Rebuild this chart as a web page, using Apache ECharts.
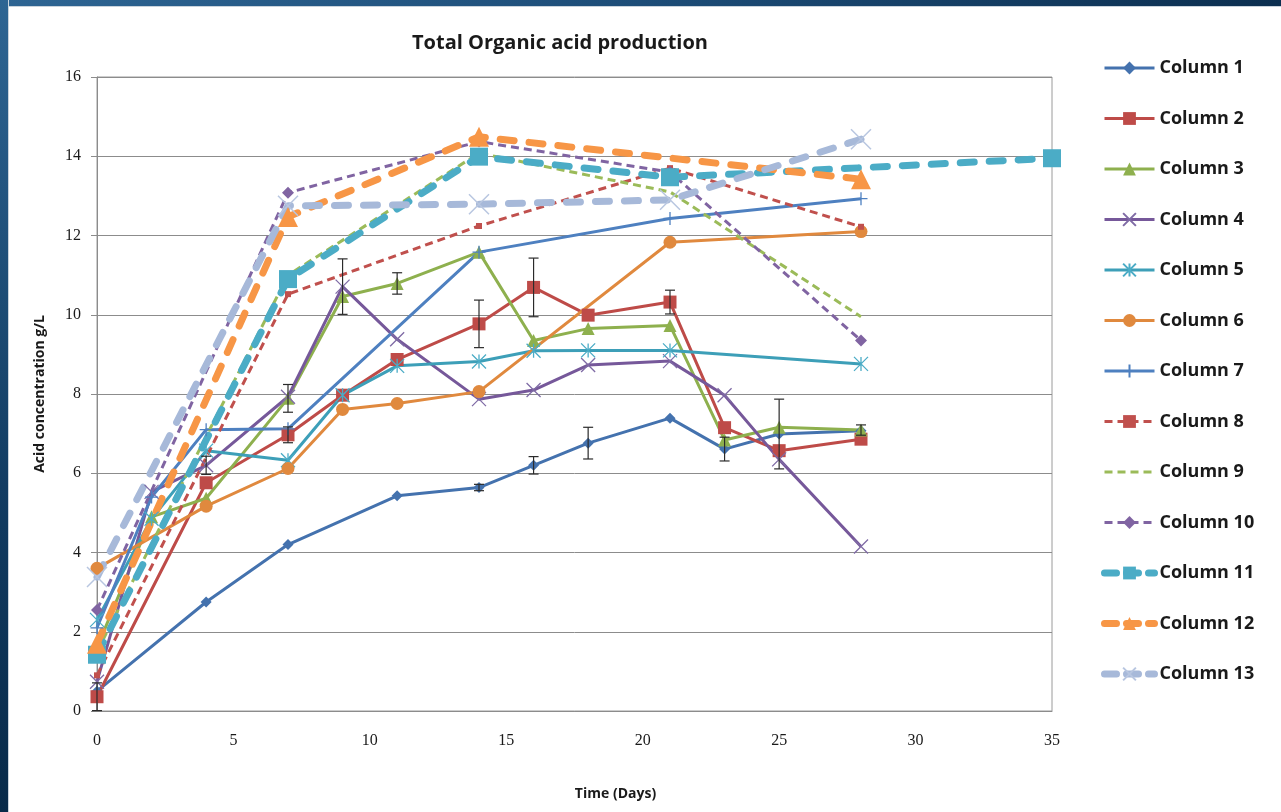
<!DOCTYPE html>
<html>
<head>
<meta charset="utf-8">
<script src="https://cdn.jsdelivr.net/npm/echarts@6/dist/echarts.min.js"></script>
<style>
  html, body { margin: 0; padding: 0; background: #ffffff; }
  #wrap { position: relative; width: 1281px; height: 812px; overflow: hidden; }
  #chart { position: absolute; left: 0; top: 0; width: 1281px; height: 812px; }
  .band-top { position: absolute; left: 0; top: 0; width: 1281px; height: 6px;
    background: linear-gradient(to right, #2e6593, #1d4d78 50%, #0c2f50); border-bottom: 1px solid #c9d3dc; }
  .band-left { position: absolute; left: 0; top: 0; width: 8px; height: 812px;
    background: linear-gradient(to bottom, #2e6593, #123c62 60%, #082a49); border-right: 1px solid #c9d3dc; }
</style>
</head>
<body>
<div id="wrap">
  <div id="chart"></div>
  <div class="band-top"></div>
  <div class="band-left"></div>
</div>
<script>
// Sampling days and measured acid concentrations (g/L) per column
const days1 = [0, 4, 7, 11, 14, 16, 18, 21, 23, 25, 28];
const col1  = [0.5, 2.75, 4.2, 5.43, 5.64, 6.2, 6.76, 7.39, 6.61, 6.99, 7.07];
const err1  = [0, 0, 0, 0, 0.08, 0.22, 0.4, 0, 0.3, 0.88, 0];

const days2 = [0, 4, 7, 9, 11, 14, 16, 18, 21, 23, 25, 28];
const col2  = [0.36, 5.76, 6.97, 7.97, 8.87, 9.77, 10.69, 9.99, 10.32, 7.15, 6.57, 6.86];
const err2  = [0.35, 0, 0.2, 0, 0, 0.6, 0.74, 0, 0.3, 0, 0, 0];

const days3 = [0, 2, 4, 7, 9, 11, 14, 16, 18, 21, 23, 25, 28];
const col3  = [1.6, 4.9, 5.37, 7.89, 10.46, 10.79, 11.58, 9.35, 9.65, 9.73, 6.84, 7.16, 7.09];
const err3  = [0, 0, 0, 0.35, 0, 0.27, 0, 0, 0, 0, 0, 0, 0.13];

const days4 = [0, 2, 4, 7, 9, 11, 14, 16, 18, 21, 23, 25, 28];
const col4  = [0.74, 5.53, 6.2, 7.93, 10.71, 9.38, 7.87, 8.1, 8.73, 8.83, 7.97, 6.35, 4.15];
const err4  = [0, 0, 0.23, 0, 0.7, 0, 0, 0, 0, 0, 0, 0, 0];

const days5 = [0, 2, 4, 7, 9, 11, 14, 16, 18, 21, 28];
const col5  = [2.3, 4.85, 6.57, 6.33, 7.97, 8.71, 8.82, 9.09, 9.1, 9.1, 8.76];

const days6 = [0, 4, 7, 9, 11, 14, 21, 28];
const col6  = [3.6, 5.17, 6.12, 7.61, 7.76, 8.06, 11.83, 12.1];

const days7 = [0, 2, 4, 7, 14, 21, 28];
const col7  = [2.1, 5.4, 7.1, 7.12, 11.58, 12.43, 12.93];

const days8 = [0, 7, 14, 21, 28];
const col8  = [0.9, 10.52, 12.24, 13.7, 12.22];

const days9 = [0, 7, 14, 21, 28];
const col9  = [1.5, 11.0, 14.08, 13.1, 9.95];

const days10 = [0, 7, 14, 21, 28];
const col10  = [2.55, 13.08, 14.37, 13.6, 9.35];

const days11 = [0, 7, 14, 21, 35];
const col11  = [1.42, 10.9, 13.99, 13.47, 13.95];

const days12 = [0, 7, 14, 28];
const col12  = [1.7, 12.47, 14.49, 13.42];

const days13 = [0, 7, 14, 21, 28];
const col13  = [3.38, 12.75, 12.79, 12.9, 14.43];

const seriesNames = ['Column 1', 'Column 2', 'Column 3', 'Column 4', 'Column 5', 'Column 6', 'Column 7',
  'Column 8', 'Column 9', 'Column 10', 'Column 11', 'Column 12', 'Column 13'];

const xTicks = { min: 0, max: 35, step: 5 };
const yTicks = { min: 0, max: 16, step: 2 };

// Stroked marker shapes
const SYM_X = 'path://M0,0 L10,10 M10,0 L0,10';
const SYM_STAR = 'path://M0,0 L10,10 M10,0 L0,10 M5,0 L5,10';
const SYM_PLUS = 'path://M5,0 L5,10 M0,5 L10,5';
// zero-area shape: nothing gets filled, so the legend shows the bare dashed line
const SYM_BLANK = 'path://M0,0 L10,10';

function pairs(xs, ys) { return xs.map((x, i) => [x, ys[i]]); }

function errPoints(xs, ys, es) {
  const out = [];
  xs.forEach((x, i) => { if (es[i] > 0) out.push([x, ys[i] - es[i], ys[i] + es[i]]); });
  return out;
}

function lineSeries(name, xs, ys, color, opt) {
  const o = opt || {};
  const stroked = o.stroked;
  return {
    name: name,
    type: 'line',
    data: pairs(xs, ys),
    symbol: o.symbol || SYM_BLANK,
    symbolSize: o.size || 10,
    showSymbol: !!o.symbol,
    lineStyle: { color: color, width: o.width || 3, type: o.dash || 'solid', cap: o.cap || 'butt', join: 'round' },
    itemStyle: stroked
      ? { color: color, borderColor: o.markColor || color, borderWidth: o.markWidth || 1.5 }
      : { color: color, borderWidth: 0 },
    emphasis: { disabled: true },
    animation: false,
    z: 2,
    _legendLine: { width: o.width || 3, type: o.legendDash || o.dash || 'solid', cap: o.cap || 'butt' }
  };
}

const lines = [
  lineSeries(seriesNames[0], days1, col1, '#4472AE', { symbol: 'diamond', size: 11 }),
  lineSeries(seriesNames[1], days2, col2, '#BE4B48', { symbol: 'rect', size: 13 }),
  lineSeries(seriesNames[2], days3, col3, '#8EB04E', { symbol: 'triangle', size: 13 }),
  lineSeries(seriesNames[3], days4, col4, '#76589A', { symbol: SYM_X, size: 14, stroked: true, markColor: '#7F6BA5', markWidth: 1.3 }),
  lineSeries(seriesNames[4], days5, col5, '#3D9FB8', { symbol: SYM_STAR, size: 14, stroked: true, markColor: '#4BACC6', markWidth: 1.3 }),
  lineSeries(seriesNames[5], days6, col6, '#E0893E', { symbol: 'circle', size: 13 }),
  lineSeries(seriesNames[6], days7, col7, '#4E80C0', { symbol: SYM_PLUS, size: 13, stroked: true, markWidth: 1.3 }),
  lineSeries(seriesNames[7], days8, col8, '#C0504D', { symbol: 'rect', size: 6, dash: [8, 5], width: 3 }),
  lineSeries(seriesNames[8], days9, col9, '#9BBB59', { dash: [8, 5], width: 3 }),
  lineSeries(seriesNames[9], days10, col10, '#8064A2', { symbol: 'diamond', size: 12, dash: [8, 5], width: 3 }),
  lineSeries(seriesNames[10], days11, col11, '#4BACC6', { symbol: 'rect', size: 18, dash: [14, 15], legendDash: [12, 10], width: 7, cap: 'round' }),
  lineSeries(seriesNames[11], days12, col12, '#F79646', { symbol: 'triangle', size: 20, dash: [14, 15], legendDash: [12, 10], width: 7, cap: 'round' }),
  lineSeries(seriesNames[12], days13, col13, '#A7B9D9', { symbol: SYM_X, size: 20, stroked: true, markColor: '#B8C6E0', markWidth: 1.5, dash: [14, 15], legendDash: [12, 10], width: 7, cap: 'round' })
];

// Legend entries repeat each series' stroke (width, dash, caps)
const legendItems = lines.map(s => ({
  name: s.name,
  lineStyle: { width: s._legendLine.width, type: s._legendLine.type, cap: s._legendLine.cap }
}));
lines.forEach(s => { delete s._legendLine; });

// Error bars (±) drawn over the lines
const errData = [].concat(
  errPoints(days1, col1, err1),
  errPoints(days2, col2, err2),
  errPoints(days3, col3, err3),
  errPoints(days4, col4, err4)
);

const errorSeries = {
  type: 'custom',
  name: 'error',
  data: errData,
  encode: { x: 0, y: [1, 2] },
  renderItem: function (params, api) {
    const x = api.value(0);
    const lo = api.coord([x, api.value(1)]);
    const hi = api.coord([x, api.value(2)]);
    const hw = 5;
    const st = { stroke: '#2b2b2b', lineWidth: 1.2 };
    return {
      type: 'group',
      children: [
        { type: 'line', shape: { x1: lo[0], y1: lo[1], x2: hi[0], y2: hi[1] }, style: st },
        { type: 'line', shape: { x1: lo[0] - hw, y1: lo[1], x2: lo[0] + hw, y2: lo[1] }, style: st },
        { type: 'line', shape: { x1: hi[0] - hw, y1: hi[1], x2: hi[0] + hw, y2: hi[1] }, style: st }
      ]
    };
  },
  silent: true,
  animation: false,
  z: 5
};

const chart = echarts.init(document.getElementById('chart'), null, { renderer: 'canvas' });
chart.setOption({
  backgroundColor: '#ffffff',
  animation: false,
  title: {
    text: 'Total Organic acid production',
    left: 407,
    top: 28,
    textStyle: { fontFamily: 'Open Sans', fontSize: 20, fontWeight: 'bold', color: '#1a1a1a' }
  },
  legend: {
    orient: 'vertical',
    left: 1096,
    top: 54,
    itemWidth: 50,
    itemHeight: 16,
    itemGap: 32.5,
    data: legendItems,
    selectedMode: false,
    textStyle: { fontFamily: 'Open Sans', fontSize: 18, fontWeight: 'bold', color: '#1a1a1a' }
  },
  grid: {
    left: 97, right: 229, top: 77, bottom: 101,
    show: true, borderColor: '#9a9a9a', borderWidth: 1, backgroundColor: 'transparent'
  },
  xAxis: {
    type: 'value',
    min: xTicks.min, max: xTicks.max, interval: xTicks.step,
    name: 'Time (Days)',
    nameLocation: 'middle',
    nameGap: 76,
    nameTextStyle: { fontFamily: 'Open Sans', fontSize: 14, fontWeight: 'bold', color: '#1a1a1a', padding: [0, 0, 0, 82] },
    axisLine: { show: true, lineStyle: { color: '#8c8c8c', width: 1 } },
    axisTick: { show: false },
    axisLabel: { margin: 22, fontFamily: 'Liberation Serif', fontSize: 16, color: '#1a1a1a' },
    splitLine: { show: false }
  },
  yAxis: {
    type: 'value',
    min: yTicks.min, max: yTicks.max, interval: yTicks.step,
    name: 'Acid concentration g/L',
    nameLocation: 'middle',
    nameGap: 50,
    nameRotate: 90,
    nameTextStyle: { fontFamily: 'Open Sans', fontSize: 14, fontWeight: 'bold', color: '#1a1a1a' },
    axisLine: { show: true, lineStyle: { color: '#8c8c8c', width: 1 } },
    axisTick: { show: true, inside: false, length: 6, lineStyle: { color: '#8c8c8c' } },
    axisLabel: { margin: 16, fontFamily: 'Liberation Serif', fontSize: 16, color: '#1a1a1a' },
    splitLine: { show: true, lineStyle: { color: '#8c8c8c', width: 1 } }
  },
  series: lines.concat([errorSeries])
});
</script>
</body>
</html>
